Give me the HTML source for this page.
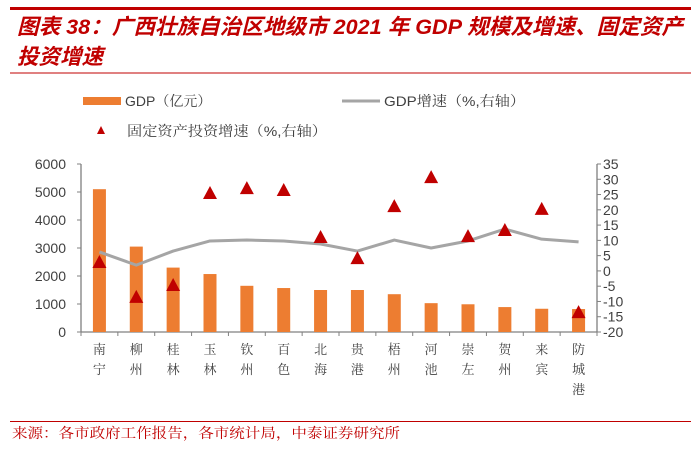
<!DOCTYPE html>
<html><head><meta charset="utf-8">
<style>
body{margin:0;width:700px;height:445px;background:#fff;overflow:hidden;font-family:"Liberation Sans","Noto Sans CJK SC",sans-serif;}
</style></head>
<body>
<svg id="chart" width="700" height="445" xmlns="http://www.w3.org/2000/svg" font-family="Liberation Sans, Noto Sans CJK SC, sans-serif">
<rect x="10" y="7" width="681" height="3" fill="#c00000"/>
<text x="17" y="34" font-size="21.5" font-weight="bold" font-style="italic" fill="#c00000" textLength="666" lengthAdjust="spacingAndGlyphs">图表 38：广西壮族自治区地级市 2021 年 GDP 规模及增速、固定资产</text>
<text x="17" y="64" font-size="21.5" font-weight="bold" font-style="italic" fill="#c00000">投资增速</text>
<rect x="10" y="72.5" width="681" height="1" fill="#c00000"/>
<g font-size="14" fill="#404040" font-family="Liberation Sans, Noto Serif CJK SC, serif">
<rect x="83" y="97" width="38" height="8" fill="#ed7d31"/>
<text x="125" y="106">GDP（亿元）</text>
<rect x="342" y="99.5" width="38" height="3" fill="#a5a5a5"/>
<text x="384" y="106" textLength="141" lengthAdjust="spacingAndGlyphs">GDP增速（%,右轴）</text>
<polygon points="101,126 97,134 105,134" fill="#c00000"/>
<text x="127" y="136" textLength="200" lengthAdjust="spacingAndGlyphs">固定资产投资增速（%,右轴）</text>
</g>
<g id="plot"></g>
<rect x="10" y="421" width="681" height="1" fill="#c00000"/>
<text x="12" y="438" font-size="14" fill="#c00000" font-family="Liberation Sans, Noto Serif CJK SC, serif" textLength="388" lengthAdjust="spacingAndGlyphs">来源：各市政府工作报告，各市统计局，中泰证券研究所</text>
</svg>
<script>
const categories=["南宁","柳州","桂林","玉林","钦州","百色","北海","贵港","梧州","河池","崇左","贺州","来宾","防城港"];
const gdpValues=[5100,3050,2300,2070,1650,1570,1500,1500,1350,1030,990,890,830,820];
const gdpGrowth=[6.2,1.9,6.5,9.8,10.1,9.8,8.8,6.5,10.1,7.5,9.8,13.7,10.4,9.5];
const investGrowth=[2.9,-8.5,-4.6,25.5,27.1,26.5,11.1,4.2,21.2,30.7,11.4,13.4,20.3,-13.5];
const leftTicks=[0,1000,2000,3000,4000,5000,6000];
const rightTicks=[-20,-15,-10,-5,0,5,10,15,20,25,30,35];

const NS="http://www.w3.org/2000/svg";
const g=document.getElementById('plot');
const X0=81,X1=597,Y0=332,Y1=164;
const bw=(X1-X0)/categories.length;
const xc=i=>X0+bw*(i+0.5);
const yL=v=>Y0-(v-0)/(6000)*(Y0-Y1);
const yR=v=>Y0-(v+20)/55*(Y0-Y1);
function mk(t,a){const e=document.createElementNS(NS,t);for(const k in a)e.setAttribute(k,a[k]);g.appendChild(e);return e;}

let e;
e=mk('line',{x1:X0,y1:Y1,x2:X0,y2:Y0,stroke:'#808080','stroke-width':1.3});


e=mk('line',{x1:X1,y1:Y1,x2:X1,y2:Y0,stroke:'#808080','stroke-width':1.3});


e=mk('line',{x1:X0,y1:Y0,x2:X1,y2:Y0,stroke:'#808080','stroke-width':1.3});



leftTicks.forEach(v=>{
  e=mk('line',{x1:X0-4,y1:yL(v),x2:X0,y2:yL(v),stroke:'#808080'});
  
  
  e=mk('text',{x:X0-15,y:yL(v)+5,'text-anchor':'end','font-size':14,fill:'#404040'});
  e.textContent=v;
  
  
});
rightTicks.forEach(v=>{
  e=mk('line',{x1:X1,y1:yR(v),x2:X1+4,y2:yR(v),stroke:'#808080'});
  
  
  e=mk('text',{x:X1+6,y:yR(v)+5,'font-size':14,fill:'#404040'});
  e.textContent=v;
  
  
});
for(let i=0;i<=categories.length;i++){
  e=mk('line',{x1:X0+bw*i,y1:Y0,x2:X0+bw*i,y2:Y0+4,stroke:'#808080'});
  
  
}
categories.forEach((c,i)=>{
  const t=mk('text',{'font-size':13,fill:'#404040','text-anchor':'middle','font-family':'Noto Serif CJK SC, serif'});
  
  
  [...c].forEach((ch,k)=>{const s=document.createElementNS(NS,'tspan');s.setAttribute('x',xc(i));s.setAttribute('y',Y0+22+k*20);s.textContent=ch;t.appendChild(s);});
});
gdpValues.forEach((v,i)=>{
  e=mk('rect',{x:xc(i)-6.5,y:yL(v),width:13,height:Y0-yL(v),fill:'#ed7d31'});
  
  
});
e=mk('polyline',{points:gdpGrowth.map((v,i)=>xc(i)+','+yR(v)).join(' '),fill:'none',stroke:'#a5a5a5','stroke-width':3,'stroke-linejoin':'round'});


investGrowth.forEach((v,i)=>{
  const x=xc(i),y=yR(v);
  e=mk('polygon',{points:`${x},${y-7} ${x-7},${y+6} ${x+7},${y+6}`,fill:'#c00000'});
  
  
});
</script>
</body></html>
